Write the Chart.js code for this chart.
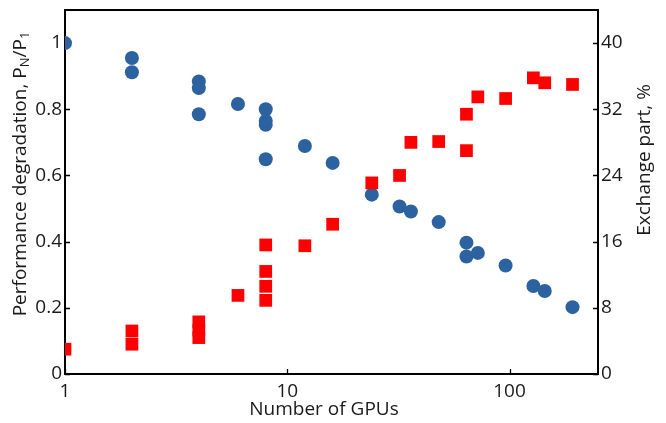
<!DOCTYPE html>
<html>
<head>
<meta charset="utf-8">
<script src="https://cdn.jsdelivr.net/npm/chart.js@4.4.1/dist/chart.umd.min.js"></script>
<style>
  html, body { margin: 0; padding: 0; background: #ffffff; }
  #wrap { width: 666px; height: 423px; position: relative; }
</style>
</head>
<body>
<div id="wrap"><canvas id="c" width="666" height="423"></canvas></div>
<script>
// ---- data ----
const gpusPerf = [1, 2, 2, 4, 4, 4, 6, 8, 8, 8, 8, 12, 16, 24, 32, 36, 48, 64, 64, 72, 96, 128, 144, 192];
const perfRatio = [1.0, 0.955, 0.912, 0.884, 0.864, 0.785, 0.816, 0.800, 0.765, 0.753, 0.649, 0.689, 0.638, 0.542, 0.506, 0.491, 0.459, 0.397, 0.355, 0.366, 0.328, 0.266, 0.251, 0.202];
const gpusExch = [1, 2, 2, 4, 4, 4, 6, 8, 8, 8, 8, 12, 16, 24, 32, 36, 48, 64, 64, 72, 96, 128, 144, 192];
const exchPart = [3.0, 5.2, 3.6, 6.3, 5.3, 4.4, 9.5, 15.6, 12.4, 10.6, 8.9, 15.5, 18.1, 23.1, 24.0, 28.0, 28.1, 31.4, 27.0, 33.5, 33.3, 35.8, 35.2, 35.0];
const xTicks = [1, 10, 100];
const yLeftTicks = [0, 0.2, 0.4, 0.6, 0.8, 1.0];
const yRightTicks = [0, 8, 16, 24, 32, 40];
const xTitle = 'Number of GPUs';
const yLeftTitleParts = [['Performance degradation, P', false], ['N', true], ['/P', false], ['1', true]];
const yRightTitle = 'Exchange part, %';

const FONT = "'Open Sans', 'Noto Sans', sans-serif";
const FS = 19;
const TXT = '#1a1a1a';

const framePlugin = {
  id: 'frame',
  beforeDatasetsDraw(chart) {
    const ctx = chart.ctx;
    const a = chart.chartArea;
    const xs = chart.scales.x, yl = chart.scales.y, yr = chart.scales.y2;
    ctx.save();
    ctx.strokeStyle = '#000';
    ctx.lineWidth = 2;
    ctx.strokeRect(a.left, a.top, a.right - a.left, a.bottom - a.top);
    ctx.lineWidth = 1.3;
    ctx.beginPath();
    xTicks.forEach(v => { const p = Math.round(xs.getPixelForValue(v)) + 0.5; ctx.moveTo(p, a.bottom); ctx.lineTo(p, a.bottom - 5); });
    yLeftTicks.forEach(v => { const p = Math.round(yl.getPixelForValue(v)) + 0.5; ctx.moveTo(a.left, p); ctx.lineTo(a.left + 5, p); });
    yRightTicks.forEach(v => { const p = Math.round(yr.getPixelForValue(v)) + 0.5; ctx.moveTo(a.right, p); ctx.lineTo(a.right - 5, p); });
    ctx.stroke();
    ctx.restore();
  },
  afterDraw(chart) {
    const ctx = chart.ctx;
    ctx.save();
    ctx.fillStyle = TXT;
    ctx.textBaseline = 'middle';
    // x title
    ctx.font = FS + 'px ' + FONT;
    ctx.textAlign = 'center';
    ctx.fillText(xTitle, 324, 410);
    // left title with subscripts
    ctx.save();
    ctx.translate(21, 174);
    ctx.rotate(-Math.PI / 2);
    ctx.textAlign = 'left';
    let w = 0;
    yLeftTitleParts.forEach(([t, sub]) => { ctx.font = (sub ? '13px ' : FS + 'px ') + FONT; w += ctx.measureText(t).width; });
    let x0 = -w / 2;
    yLeftTitleParts.forEach(([t, sub]) => {
      ctx.font = (sub ? '13px ' : FS + 'px ') + FONT;
      ctx.fillText(t, x0, sub ? 4 : 0);
      x0 += ctx.measureText(t).width;
    });
    ctx.restore();
    // right title
    ctx.save();
    ctx.translate(645, 160);
    ctx.rotate(-Math.PI / 2);
    ctx.font = FS + 'px ' + FONT;
    ctx.textAlign = 'center';
    ctx.fillText(yRightTitle, 0, 0);
    ctx.restore();
    ctx.restore();
  }
};

const fmtLeft = v => (v === 0 ? '0' : v === 1 ? '1' : v.toFixed(1));
const zeroPad = s => { s.paddingTop = 0; s.paddingBottom = 0; };

new Chart(document.getElementById('c'), {
  type: 'scatter',
  data: {
    datasets: [
      {
        label: 'Exchange part',
        data: gpusExch.map((g, i) => ({ x: g, y: exchPart[i] })),
        yAxisID: 'y2',
        pointStyle: 'rect',
        pointRadius: 9,
        pointHoverRadius: 9,
        backgroundColor: '#ff0000',
        borderColor: '#ff0000',
        borderWidth: 0
      },
      {
        label: 'Performance degradation',
        data: gpusPerf.map((g, i) => ({ x: g, y: perfRatio[i] })),
        yAxisID: 'y',
        pointStyle: 'circle',
        pointRadius: 7,
        pointHoverRadius: 7,
        backgroundColor: '#2c62a0',
        borderColor: '#2c62a0',
        borderWidth: 0
      }
    ]
  },
  options: {
    responsive: false,
    animation: false,
    events: [],
    layout: { padding: { top: 10, left: 0, right: 0, bottom: 0 } },
    plugins: { legend: { display: false }, tooltip: { enabled: false } },
    scales: {
      x: {
        type: 'logarithmic',
        position: 'bottom',
        min: 1, max: 250,
        grid: { display: false, drawTicks: false },
        border: { display: false },
        afterBuildTicks: s => { s.ticks = xTicks.map(v => ({ value: v })); },
        afterFit: s => { s.height = 49; s.paddingLeft = 0; s.paddingRight = 0; },
        ticks: { autoSkip: false, maxRotation: 0, padding: 6, color: TXT, font: { family: FONT, size: FS }, callback: v => String(v) }
      },
      y: {
        position: 'left',
        min: 0, max: 1.1,
        grid: { display: false, drawTicks: false },
        border: { display: false },
        afterBuildTicks: s => { s.ticks = yLeftTicks.map(v => ({ value: v })); },
        afterFit: s => { s.width = 65; zeroPad(s); },
        ticks: { padding: 3, color: TXT, font: { family: FONT, size: FS }, callback: v => fmtLeft(v) }
      },
      y2: {
        position: 'right',
        min: 0, max: 44,
        grid: { display: false, drawTicks: false },
        border: { display: false },
        afterBuildTicks: s => { s.ticks = yRightTicks.map(v => ({ value: v })); },
        afterFit: s => { s.width = 68; zeroPad(s); },
        ticks: { padding: 3, color: TXT, font: { family: FONT, size: FS }, callback: v => String(v) }
      }
    }
  },
  plugins: [framePlugin]
});
</script>
</body>
</html>
